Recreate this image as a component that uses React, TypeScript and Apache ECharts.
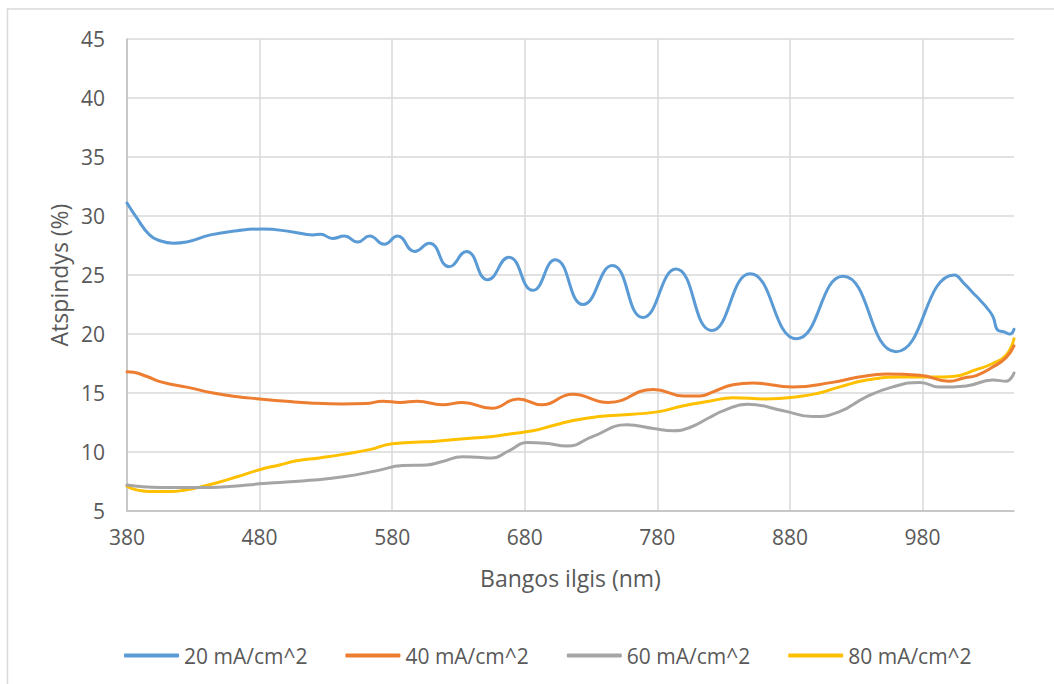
import React, { useEffect, useRef } from "react";
import * as echarts from "echarts";

const seriesNames = ["20 mA/cm^2", "40 mA/cm^2", "60 mA/cm^2", "80 mA/cm^2"];
const seriesColors = ["#5B9BD5", "#ED7D31", "#A5A5A5", "#FFC000"];

const xTicks = [380, 480, 580, 680, 780, 880, 980];

// 20 mA/cm^2
const wl20 = [380, 387, 397, 405, 415, 425, 443, 463, 482, 505, 520, 526, 535, 544, 554, 563, 574, 584, 597, 608, 623, 636, 652, 668, 686, 703, 724, 746, 769, 794, 821, 850, 885, 920, 960, 1004, 1012, 1018, 1024, 1028, 1033, 1037, 1041, 1046, 1049];
const r20 = [31.1, 29.9, 28.4, 27.9, 27.7, 27.8, 28.4, 28.75, 28.9, 28.65, 28.4, 28.45, 28.1, 28.3, 27.8, 28.3, 27.6, 28.3, 27.0, 27.7, 25.7, 27.0, 24.6, 26.5, 23.7, 26.3, 22.5, 25.8, 21.4, 25.5, 20.3, 25.1, 19.6, 24.9, 18.5, 25.0, 24.2, 23.5, 22.8, 22.3, 21.5, 20.3, 20.2, 20.0, 20.4];

// 40 mA/cm^2
const wl40 = [380, 385, 395, 407, 425, 445, 462, 480, 500, 518, 543, 560, 573, 586, 599, 618, 633, 655, 675, 693, 716, 743, 777, 800, 812, 822, 837, 852, 882, 912, 932, 953, 978, 1000, 1012, 1021, 1033, 1043, 1049];
const r40 = [16.8, 16.75, 16.4, 15.9, 15.5, 15.0, 14.7, 14.5, 14.3, 14.15, 14.07, 14.1, 14.3, 14.2, 14.3, 14.0, 14.2, 13.7, 14.5, 14.0, 14.9, 14.2, 15.3, 14.75, 14.75, 15.1, 15.7, 15.85, 15.5, 15.9, 16.35, 16.6, 16.5, 16.0, 16.3, 16.5, 17.2, 18.0, 19.0];

// 60 mA/cm^2
const wl60 = [380, 392, 405, 418, 443, 460, 480, 500, 518, 543, 568, 588, 606, 618, 633, 645, 655, 668, 682, 695, 712, 731, 757, 777, 792, 805, 819, 830, 848, 875, 897, 917, 938, 957, 978, 993, 1013, 1033, 1043, 1049];
const r60 = [7.2, 7.05, 7.0, 7.0, 7.0, 7.1, 7.3, 7.45, 7.6, 7.9, 8.4, 8.85, 8.9, 9.2, 9.6, 9.55, 9.5, 10.1, 10.8, 10.75, 10.5, 11.3, 12.3, 12.0, 11.8, 12.1, 12.9, 13.5, 14.05, 13.5, 13.0, 13.4, 14.7, 15.5, 15.9, 15.5, 15.6, 16.1, 16.0, 16.7];

// 80 mA/cm^2
const wl80 = [380, 385, 392, 400, 412, 425, 434, 448, 463, 480, 495, 508, 525, 543, 563, 580, 601, 611, 632, 654, 670, 686, 700, 714, 736, 761, 780, 799, 819, 837, 862, 887, 902, 917, 938, 963, 988, 1003, 1021, 1033, 1043, 1049];
const r80 = [7.1, 6.85, 6.7, 6.65, 6.65, 6.8, 7.0, 7.4, 7.9, 8.5, 8.9, 9.25, 9.5, 9.8, 10.2, 10.7, 10.85, 10.9, 11.1, 11.3, 11.55, 11.8, 12.2, 12.6, 13.0, 13.2, 13.4, 13.9, 14.3, 14.6, 14.5, 14.7, 15.0, 15.5, 16.1, 16.35, 16.35, 16.4, 17.0, 17.5, 18.2, 19.6];

const xs = [wl20, wl40, wl60, wl80];
const ys = [r20, r40, r60, r80];

const FONT = "'Open Sans', 'Noto Sans', sans-serif";
const TEXT = "#595959";

export default function App() {
  const ref = useRef<HTMLDivElement>(null);

  useEffect(() => {
    if (!ref.current) return;
    const chart = echarts.init(ref.current, null, { renderer: "svg" });
    const series = seriesNames.map((name, i) => ({
      name,
      type: "line",
      data: xs[i].map((x, j) => [x, ys[i][j]]),
      smooth: 0.5,
      symbol: "none",
      lineStyle: { color: seriesColors[i], width: 3, cap: "round", join: "round" },
      itemStyle: { color: seriesColors[i] },
      z: 10 - i,
    }));
    chart.setOption({
      animation: false,
      backgroundColor: "#ffffff",
      textStyle: { fontFamily: FONT },
      grid: { left: 127, right: 40, top: 39, bottom: 173, containLabel: false },
      xAxis: {
        type: "value",
        min: 380,
        max: 1049,
        name: "Bangos ilgis (nm)",
        nameLocation: "middle",
        nameGap: 55,
        nameTextStyle: { color: TEXT, fontSize: 23, fontFamily: FONT },
        axisLine: { show: true, lineStyle: { color: "#BFBFBF", width: 1.5 } },
        axisTick: { show: false, customValues: xTicks },
        axisLabel: { customValues: xTicks, color: TEXT, fontSize: 21, fontFamily: FONT, margin: 15 },
        splitLine: { show: true, lineStyle: { color: "#D9D9D9", width: 1.5 } },
      },
      yAxis: {
        type: "value",
        min: 5,
        max: 45,
        interval: 5,
        name: "Atspindys (%)",
        nameLocation: "middle",
        nameGap: 55,
        nameTextStyle: { color: TEXT, fontSize: 23, fontFamily: FONT },
        axisLine: { show: true, lineStyle: { color: "#BFBFBF", width: 1.5 } },
        axisTick: { show: false },
        axisLabel: { color: TEXT, fontSize: 21, fontFamily: FONT, margin: 22 },
        splitLine: { show: true, lineStyle: { color: "#D9D9D9", width: 1.5 } },
      },
      legend: {
        left: 119,
        top: 640,
        icon: "roundRect",
        itemWidth: 55,
        itemHeight: 4,
        itemGap: 38,
        textStyle: { color: TEXT, fontSize: 21, fontFamily: FONT },
        data: seriesNames,
      },
      graphic: [
        {
          type: "rect",
          shape: { x: 7.5, y: 9, width: 1200, height: 900 },
          style: { fill: "none", stroke: "#D9D9D9", lineWidth: 1.5 },
          silent: true,
          z: -1,
        },
      ],
      series,
    });
    return () => chart.dispose();
  }, []);

  return (
    <div
      ref={ref}
      style={{ position: "absolute", left: 0, top: 0, width: 1054, height: 684 }}
    />
  );
}
